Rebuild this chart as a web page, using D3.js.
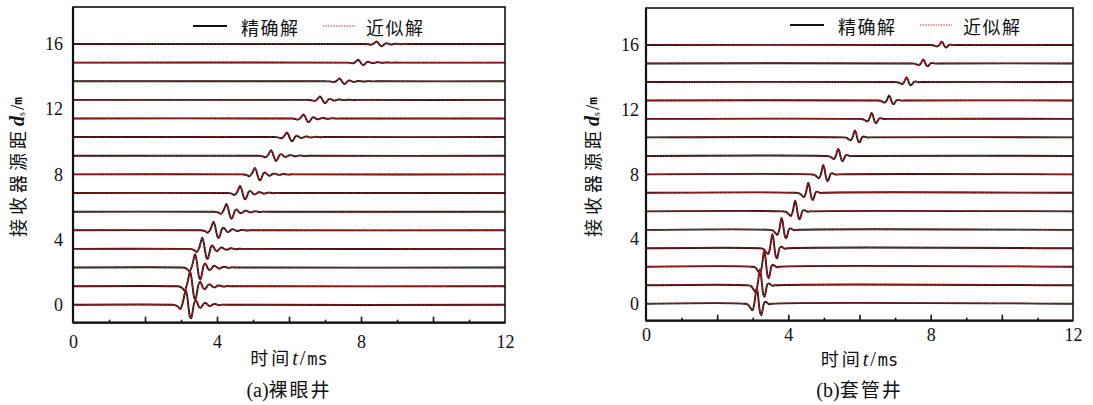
<!DOCTYPE html>
<html><head><meta charset="utf-8">
<script src="https://cdn.jsdelivr.net/npm/d3@7"></script>
<style>
body{margin:0;background:#fff;}
svg{display:block;}
</style></head><body>
<svg id="c" width="1093" height="405"></svg>
<script>
// ---- data ----
const timeLabelTicks = [0, 4, 8, 12];
const timeMajorTicks = [2, 4, 6, 8, 10];
const timeMinorTicks = [1, 3, 5, 7, 9, 11];
const offsetTicks = [0, 4, 8, 12, 16];
const legendLabels = ["精确解", "近似解"];
const panelTags = ["a", "b"];
const panelNames = ["裸眼井", "套管井"];
// receiver offsets (m)
const offsets = [0, 1.14, 2.29, 3.43, 4.57, 5.71, 6.86, 8.0, 9.14, 10.29, 11.43, 12.57, 13.71, 14.86, 16.0];
// (a) open hole: main-peak arrival time (ms) and amplitude (m) per trace
const openArrival = [3.13, 3.25, 3.39, 3.59, 3.90, 4.26, 4.64, 5.05, 5.50, 5.94, 6.40, 6.86, 7.40, 7.92, 8.43];
const openAmp = [0.92, 0.90, 0.82, 0.68, 0.53, 0.47, 0.43, 0.40, 0.34, 0.28, 0.25, 0.21, 0.18, 0.17, 0.15];
// (b) cased hole
const casedArrival = [3.11, 3.20, 3.32, 3.55, 3.81, 4.19, 4.56, 4.98, 5.40, 5.87, 6.34, 6.83, 7.32, 7.79, 8.31];
const casedAmp = [0.98, 0.98, 0.99, 0.87, 0.73, 0.68, 0.62, 0.58, 0.45, 0.43, 0.37, 0.31, 0.28, 0.25, 0.21];
// wavelet shapes: time relative to main peak (ms), normalised value
const openTau   = [-0.40, -0.30, -0.22, -0.15, -0.08, -0.04, 0.00, 0.04, 0.08, 0.12, 0.15, 0.19, 0.24, 0.28, 0.32, 0.37, 0.41, 0.46, 0.51, 0.55, 0.60, 0.65, 0.70, 0.76, 0.82, 0.88, 0.95, 1.02, 1.10];
const openShape = [0, -0.02, -0.12, -0.28, 0.15, 0.60, 1.00, 0.60, -0.20, -0.80, -0.90, -0.50, 0.15, 0.30, 0.15, -0.14, -0.20, -0.07, 0.10, 0.12, 0.03, -0.07, -0.07, 0.03, 0.05, 0, -0.03, 0.01, 0];
const casedTau   = [-0.35, -0.25, -0.18, -0.12, -0.07, -0.03, 0.00, 0.03, 0.06, 0.10, 0.13, 0.17, 0.21, 0.25, 0.30, 0.36, 0.42];
const casedShape = [0, -0.05, -0.25, -0.42, -0.05, 0.60, 1.00, 0.70, 0.05, -0.60, -0.72, -0.35, 0.05, 0.12, 0.05, -0.03, 0];
const timeDomain = [0, 12];

const SERIF = '"Liberation Serif","DejaVu Serif",serif';
const CJK = '"Noto Sans CJK SC","Noto Sans CJK JP",sans-serif';
const MONO = '"DejaVu Sans Mono","Liberation Mono",monospace';

const panels = [
  {x0: 73, x1: 505, yTop: 7, yBot: 322.7, yDom: [-1.1, 18.27], arrival: openArrival, amp: openAmp, tau: openTau, shape: openShape,
   yLabelX: 17, yLabelY: 167, tickPad: 10, xLabPad: 13, xTitleY: 365, titleY: 397, legX: 193, legY: 26},
  {x0: 646, x1: 1073, yTop: 8, yBot: 320.7, yDom: [-1.05, 18.29], arrival: casedArrival, amp: casedAmp, tau: casedTau, shape: casedShape,
   yLabelX: 592, yLabelY: 167, tickPad: 7, xLabPad: 8, xTitleY: 366, titleY: 397, legX: 790, legY: 25}
];

const svg = d3.select("#c");
function sty(sel, fam, size, extra) {
  sel.style("font-family", fam).style("font-size", size + "px").style("fill", "#111");
  if (extra) Object.entries(extra).forEach(([k, v]) => sel.style(k, v));
  return sel;
}

panels.forEach((p, pi) => {
  const x = d3.scaleLinear().domain(timeDomain).range([p.x0, p.x1]);
  const y = d3.scaleLinear().domain(p.yDom).range([p.yBot, p.yTop]);
  const g = svg.append("g");

  // traces
  const traces = offsets.map((d, i) => {
    const pts = [[timeDomain[0], d]];
    p.tau.forEach((t, k) => pts.push([p.arrival[i] + t, d + p.amp[i] * p.shape[k]]));
    pts.push([timeDomain[1], d]);
    return pts;
  });
  const line = d3.line().x(d => x(d[0])).y(d => y(d[1])).curve(d3.curveCatmullRom.alpha(0.5));
  g.selectAll("path.exact").data(traces).join("path").attr("class", "exact")
    .attr("d", line).attr("fill", "none").attr("stroke", "#111").attr("stroke-width", 1.9);
  g.selectAll("path.approx").data(traces).join("path").attr("class", "approx")
    .attr("d", line).attr("fill", "none").attr("stroke", "#ee1a22").attr("stroke-width", 1.2)
    .attr("stroke-dasharray", "1.4,1.2");

  // frame
  g.append("rect").attr("x", p.x0).attr("y", p.yTop).attr("width", p.x1 - p.x0).attr("height", p.yBot - p.yTop)
    .attr("fill", "none").attr("stroke", "#111").attr("stroke-width", 1.6);
  g.append("line").attr("x1", p.x0).attr("x2", p.x0).attr("y1", p.yTop).attr("y2", p.yBot).attr("stroke", "#111").attr("stroke-width", 2.2);
  g.append("line").attr("x1", p.x0).attr("x2", p.x1).attr("y1", p.yBot).attr("y2", p.yBot).attr("stroke", "#111").attr("stroke-width", 2.2);

  // inward ticks
  const tickG1 = g.append("g").attr("transform", `translate(0,${p.yBot})`)
    .call(d3.axisTop(x).tickValues(timeMajorTicks).tickSize(6).tickFormat(""));
  const tickG2 = g.append("g").attr("transform", `translate(0,${p.yBot})`)
    .call(d3.axisTop(x).tickValues(timeMinorTicks).tickSize(3).tickFormat(""));
  [tickG1, tickG2].forEach(t => { t.select(".domain").remove(); t.selectAll("line").attr("stroke", "#111").attr("stroke-width", 1.6); });

  // x labels
  const xl = g.append("g").attr("transform", `translate(0,${p.yBot})`)
    .call(d3.axisBottom(x).tickValues(timeLabelTicks).tickSize(0).tickPadding(p.xLabPad).tickFormat(d3.format("d")));
  xl.select(".domain").remove();
  sty(xl.selectAll("text"), SERIF, 18);

  // y labels
  const yl = g.append("g").attr("transform", `translate(${p.x0},0)`)
    .call(d3.axisLeft(y).tickValues(offsetTicks).tickSize(0).tickPadding(p.tickPad).tickFormat(d3.format("d")));
  yl.select(".domain").remove();
  sty(yl.selectAll("text"), SERIF, 18);

  // y-axis title
  const yt = g.append("text").attr("transform", `translate(${p.yLabelX},${p.yLabelY}) rotate(-90)`)
    .attr("text-anchor", "middle").attr("dominant-baseline", "central");
  sty(yt.append("tspan"), CJK, 18, {"letter-spacing": "4px"}).text("接收器源距");
  sty(yt.append("tspan"), SERIF, 20, {"font-weight": "bold", "font-style": "italic"}).attr("dx", 1).text("d");
  sty(yt.append("tspan"), SERIF, 10).attr("dy", 4).text("s");
  sty(yt.append("tspan"), SERIF, 19).attr("dy", -4).attr("dx", 2).text("/");
  sty(yt.append("tspan"), MONO, 13, {"font-weight": "bold"}).text("m");

  // x-axis title
  const cx = (p.x0 + p.x1) / 2;
  const xt = g.append("text").attr("x", cx).attr("y", p.xTitleY).attr("text-anchor", "middle");
  sty(xt.append("tspan"), CJK, 18, {"letter-spacing": "3px"}).text("时间");
  sty(xt.append("tspan"), SERIF, 20, {"font-style": "italic"}).text("t");
  sty(xt.append("tspan"), SERIF, 20).attr("dx", 2).text("/");
  sty(xt.append("tspan"), MONO, 17).attr("dx", 2).text("ms");

  const tt = g.append("text").attr("x", cx).attr("y", p.titleY).attr("text-anchor", "middle");
  sty(tt.append("tspan"), SERIF, 20).text("(" + panelTags[pi] + ")");
  sty(tt.append("tspan"), CJK, 19, {"letter-spacing": "2px"}).text(panelNames[pi]);

  // legend
  const lg = g.append("g").attr("transform", `translate(${p.legX},${p.legY})`);
  lg.append("line").attr("x1", 0).attr("x2", 34).attr("y1", 0).attr("y2", 0).attr("stroke", "#111").attr("stroke-width", 1.8);
  sty(lg.append("text"), CJK, 18, {"letter-spacing": "1.5px"}).attr("x", 48).attr("y", 1).attr("dominant-baseline", "central").text(legendLabels[0]);
  lg.append("line").attr("x1", 130).attr("x2", 162).attr("y1", 0).attr("y2", 0).attr("stroke", "#ee1a22").attr("stroke-width", 1.2).attr("stroke-dasharray", "1.4,1.2");
  sty(lg.append("text"), CJK, 18, {"letter-spacing": "1.5px"}).attr("x", 173).attr("y", 1).attr("dominant-baseline", "central").text(legendLabels[1]);
});
</script>
</body></html>
